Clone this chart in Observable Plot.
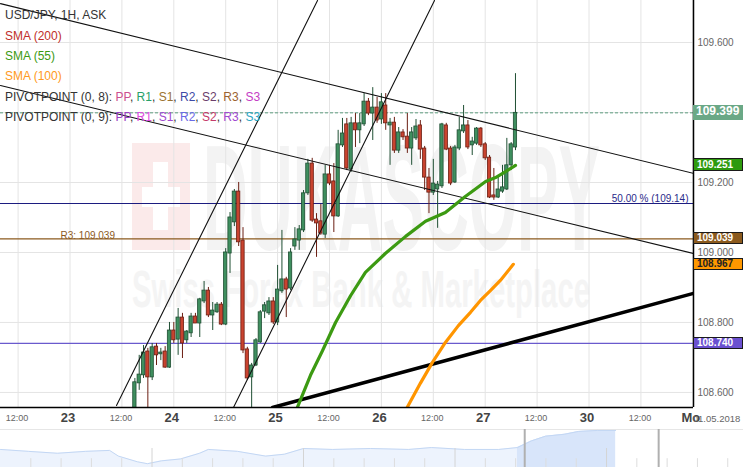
<!DOCTYPE html>
<html><head><meta charset="utf-8">
<script src="https://cdn.jsdelivr.net/npm/d3@7"></script>
<script src="https://cdn.jsdelivr.net/npm/@observablehq/plot@0.6"></script>
<style>
body{margin:0;background:#fff;}
#wrap{position:relative;width:743px;height:467px;overflow:hidden;font-family:"Liberation Sans",Arial,sans-serif;background:#fff;}
#wrap svg{display:block;}
.leg{position:absolute;left:5px;font-size:12px;white-space:nowrap;line-height:14px;}
.tag{position:absolute;left:693px;width:50px;box-sizing:border-box;border:1px solid #1a1a1a;font-weight:bold;font-size:10px;padding-left:3px;}
</style></head><body><div id="wrap"></div>
<script>
// ---------- data (hours counted from 23 Apr 00:00, weekend removed) ----------
const firstCandleHour = 15;
const opens = [108.534,108.626,108.649,108.717,108.643,108.731,108.709,108.717,108.671,108.777,
108.751,108.814,108.749,108.769,108.817,108.797,108.860,108.891,108.820,108.829,
108.851,108.794,108.997,109.086,109.174,109.034,108.723,108.643,108.677,108.743,
108.831,108.826,108.860,108.800,108.889,108.923,108.897,109.017,109.034,109.063,
109.169,109.254,109.094,109.089,109.051,109.223,109.203,109.103,109.306,109.366,
109.237,109.369,109.349,109.366,109.431,109.397,109.414,109.380,109.420,109.363,
109.371,109.291,109.343,109.331,109.297,109.326,109.363,109.297,109.214,109.171,
109.180,109.189,109.363,109.297,109.200,109.297,109.346,109.363,109.306,109.311,
109.354,109.309,109.271,109.163,109.157,109.174,109.180,109.249,109.300];
const highs = [108.640,108.706,108.734,108.726,108.740,108.740,108.726,108.731,108.800,108.800,
108.840,108.826,108.777,108.826,108.826,108.869,108.917,108.900,108.857,108.857,
108.857,109.011,109.114,109.180,109.200,109.071,108.729,108.683,108.754,108.834,
108.857,108.871,108.871,108.963,109.063,108.929,109.011,109.071,109.077,109.177,
109.266,109.269,109.111,109.137,109.249,109.249,109.254,109.349,109.383,109.383,
109.386,109.397,109.397,109.454,109.440,109.471,109.443,109.454,109.454,109.383,
109.386,109.357,109.351,109.397,109.357,109.380,109.377,109.303,109.240,109.266,
109.203,109.369,109.369,109.303,109.306,109.386,109.420,109.377,109.329,109.357,
109.357,109.314,109.277,109.240,109.220,109.249,109.326,109.314,109.511];
const lows = [108.490,108.606,108.640,108.550,108.634,108.677,108.691,108.669,108.669,108.740,
108.706,108.697,108.740,108.757,108.797,108.757,108.854,108.814,108.777,108.826,
108.791,108.791,108.940,109.074,109.017,108.711,108.634,108.530,108.674,108.740,
108.811,108.820,108.794,108.791,108.883,108.814,108.891,109.006,109.006,109.057,
109.163,109.086,108.986,109.049,109.040,109.191,109.057,109.100,109.300,109.234,
109.229,109.300,109.311,109.360,109.391,109.320,109.369,109.366,109.349,109.249,
109.283,109.283,109.320,109.283,109.249,109.320,109.266,109.177,109.111,109.163,
109.069,109.183,109.291,109.191,109.197,109.291,109.340,109.294,109.277,109.306,
109.300,109.263,109.154,109.149,109.154,109.169,109.177,109.234,109.291];
const closes = [108.629,108.651,108.714,108.643,108.729,108.706,108.714,108.671,108.777,108.749,
108.814,108.740,108.774,108.817,108.797,108.866,108.891,108.820,108.834,108.851,
108.794,109.000,109.100,109.174,109.029,108.720,108.640,108.677,108.749,108.829,
108.849,108.860,108.800,108.894,108.923,108.894,109.000,109.037,109.066,109.169,
109.254,109.091,109.083,109.054,109.223,109.197,109.103,109.309,109.340,109.240,
109.369,109.349,109.369,109.431,109.397,109.414,109.377,109.429,109.369,109.371,
109.291,109.343,109.329,109.297,109.343,109.360,109.294,109.214,109.171,109.197,
109.194,109.366,109.294,109.197,109.300,109.349,109.363,109.300,109.317,109.354,
109.306,109.269,109.157,109.157,109.180,109.186,109.249,109.309,109.399];

// SMA (55) and SMA (100): [hour, price]
const sma55 = [[52.1,108.543],[55.6,108.649],[58.4,108.720],[61.4,108.800],[64.9,108.877],[68.3,108.943],
[72.9,108.997],[77.6,109.046],[82.2,109.089],[86.8,109.114],[91.4,109.160],[96.1,109.203],[98.4,109.214],
[100.7,109.231],[103.0,109.249]];
const sma100 = [[77.6,108.549],[81.0,108.626],[83.8,108.686],[86.8,108.743],[89.8,108.791],[92.6,108.829],
[94.9,108.863],[97.2,108.891],[99.5,108.920],[102.5,108.966]];

// hand-drawn trend lines: [[hour, price],[hour, price]]
const trendUpper = [[-16.07,109.711],[144.16,109.226]];
const trendLower = [[-16.07,109.477],[144.16,108.997]];
const channelUpper = [[10.75,108.563],[57.23,109.720]];
const channelLower = [[37.8,108.557],[84.28,109.720]];
const supportLine = [[46.82,108.557],[144.16,108.883]];

// horizontal levels
const fibo50 = 109.14;
const pivotR3 = 109.039;
const purpleLevel = 108.74;
const lastPrice = 109.399;

// price tags on the right axis
const tagValues = [109.399,109.251,109.039,108.967,108.740];

// axes
const priceTicks = [108.6,108.8,109.0,109.2,109.4,109.6];
const dayTickHours = [0,24,48,72,96,120,144];
const dayTickLabels = ["23","24","25","26","27","30","Mo"];
const halfDayHours = [-12,12,36,60,84,108,132];
const halfDayLabel = "12:00";
const dateNote = "01.05.2018";

// navigator (longer history), [day, price]
const navigator = [[0,106.66],[0.92,106.38],[1.88,106.10],[2.81,106.38],[3.60,106.52],[3.89,105.68],[4.52,104.84],
[4.85,104.56],[5.31,104.98],[5.94,105.26],[6.57,106.10],[6.86,106.66],[7.82,106.38],[8.75,105.68],[9.37,105.96],
[10.00,106.80],[10.96,106.66],[12.21,106.80],[13.47,106.66],[14.22,106.94],[15.31,106.66],[16.44,106.66],
[17.06,106.94],[17.52,107.92],[17.99,108.62],[18.61,108.90],[19.08,109.32],[19.70,109.46],[20.30,109.46]];
const navSelection = [17.2, 20.33];
const navHandles = [17.3, 21.72];

// ---------- build ----------
const xDomain = [-16.07, 144.16];
const yDomain = [108.557, 109.72];

const candles = opens.map((o,i) => ({t: firstCandleHour + i, o, h: highs[i], l: lows[i], c: closes[i], up: closes[i] >= o}));
const upFill = "#3f8f5f", upLine = "#1f4f33", dnFill = "#c9432f", dnLine = "#6b1e12";
const fmt3 = d3.format(".3f");

const chart = Plot.plot({
  width: 743, height: 429,
  marginLeft: 0, marginRight: 50, marginTop: 0, marginBottom: 22,
  x: {domain: xDomain, axis: null},
  y: {domain: yDomain, axis: null},
  color: {type: "identity"},
  style: {fontFamily: "'Liberation Sans', Arial, sans-serif", background: "transparent"},
  marks: [
    Plot.ruleX([...halfDayHours, ...dayTickHours], {stroke: "#e4e4e4", strokeWidth: 1}),
    Plot.ruleY(priceTicks, {stroke: "#e4e4e4", strokeWidth: 1}),
    Plot.ruleY([lastPrice], {stroke: "#5f9f80", strokeWidth: 1, strokeDasharray: "3,2"}),
    Plot.ruleY([fibo50], {stroke: "#1c1c80", strokeWidth: 1.2}),
    Plot.ruleY([pivotR3], {stroke: "#8b5a1e", strokeWidth: 1.2}),
    Plot.ruleY([purpleLevel], {stroke: "#6a5acd", strokeWidth: 1.2}),
    Plot.text([pivotR3], {y: d => d, text: d => `R3: ${fmt3(d)}`, frameAnchor: "left", dx: 60, textAnchor: "start", lineAnchor: "bottom", dy: 0, fill: "#8b5a1e", fontSize: 10}),
    Plot.text([fibo50], {y: d => d, text: d => `50.00 % (${d3.format(".2f")(d)})`, frameAnchor: "right", dx: -5, textAnchor: "end", lineAnchor: "bottom", dy: -1, fill: "#2a2a8a", fontSize: 10}),
    Plot.ruleX(candles, {x: "t", y1: "l", y2: "h", stroke: d => d.up ? upLine : dnLine, strokeWidth: 1, clip: true}),
    Plot.rect(candles, {x1: d => d.t - 0.38, x2: d => d.t + 0.38, y1: "o", y2: "c", fill: d => d.up ? upFill : dnFill, stroke: d => d.up ? upLine : dnLine, strokeWidth: 0.8, clip: true}),
    Plot.line(trendUpper, {stroke: "#111", strokeWidth: 1.1, clip: true}),
    Plot.line(trendLower, {stroke: "#111", strokeWidth: 1.1, clip: true}),
    Plot.line(channelUpper, {stroke: "#111", strokeWidth: 1.1, clip: true}),
    Plot.line(channelLower, {stroke: "#111", strokeWidth: 1.1, clip: true}),
    Plot.line(supportLine, {stroke: "#000", strokeWidth: 3.5, clip: true}),
    Plot.line(sma100, {stroke: "#ff9500", strokeWidth: 3.2, clip: true}),
    Plot.line(sma55, {stroke: "#3c9a12", strokeWidth: 3.2, clip: true}),
    Plot.ruleX([xDomain[1]], {stroke: "#000", strokeWidth: 1.5}),
    Plot.ruleY([yDomain[0]], {stroke: "#000", strokeWidth: 1.5}),
    Plot.text(priceTicks, {y: d => d, text: d => fmt3(d), frameAnchor: "right", textAnchor: "start", dx: 4, fill: "#666", fontSize: 10}),
    Plot.text(halfDayHours, {x: d => d, text: () => halfDayLabel, frameAnchor: "bottom", dy: 13, dx: -1, fill: "#666", fontSize: 9}),
    Plot.text(dayTickHours, {x: d => d, text: (d, i) => dayTickLabels[i], frameAnchor: "bottom", dy: 14, dx: -2, fill: "#444", fontSize: 13, fontWeight: "bold"}),
    Plot.text([dayTickHours[dayTickHours.length - 1]], {x: d => d, text: () => dateNote, frameAnchor: "bottom", dy: 14, dx: 0, textAnchor: "start", fill: "#666", fontSize: 9.5})
  ]
});

// watermark (decoration) underneath everything
const svg = d3.select(chart);
const wm = svg.insert("g", ":first-child").attr("text-anchor", "start");
wm.append("rect").attr("width", 743).attr("height", 429).attr("fill", "#fff");
wm.append("rect").attr("x", 132).attr("y", 143).attr("width", 58).attr("height", 107).attr("fill", "#fbeaea");
wm.append("rect").attr("x", 153).attr("y", 162).attr("width", 15).attr("height", 68).attr("fill", "#fff");
wm.append("rect").attr("x", 142).attr("y", 187).attr("width", 38).attr("height", 20).attr("fill", "#fff");
wm.append("text").attr("x", 203).attr("y", 250).attr("font-size", 150).attr("font-weight", "bold")
  .attr("font-family", "'Liberation Sans', Arial").attr("fill", "#f3f3f3").attr("text-anchor", "start")
  .attr("textLength", 397).attr("lengthAdjust", "spacingAndGlyphs").text("DUKASCOPY");
wm.append("text").attr("x", 132).attr("y", 307).attr("font-size", 52).attr("font-weight", "bold")
  .attr("font-family", "'Liberation Sans', Arial").attr("fill", "#f4f4f4").attr("text-anchor", "start")
  .attr("textLength", 458).attr("lengthAdjust", "spacingAndGlyphs").text("Swiss Forex Bank & Marketplace");

const wrap = document.getElementById("wrap");
wrap.appendChild(chart);

// navigator
const nav = Plot.plot({
  width: 743, height: 38, margin: 0,
  x: {domain: [0, 24.52], axis: null},
  y: {domain: [104.0, 109.6], axis: null},
  style: {background: "#fff"},
  marks: [
    Plot.ruleY([109.6], {stroke: "#e6e6e6"}),
    Plot.areaY(navigator, {x: d => d[0], y: d => d[1], fill: "#edf3fd"}),
    Plot.areaY(navigator.filter(d => d[0] >= navSelection[0] - 0.5), {x: d => d[0], y: d => d[1], fill: "#d8e5fa", clip: true}),
    Plot.lineY(navigator, {x: d => d[0], y: d => d[1], stroke: "#c3d7f4", strokeWidth: 1}),
    Plot.ruleX(d3.range(1, 25).filter(d => d % 5 !== 0), {y1: 104.0, y2: 105.3, stroke: "#dddddd"}),
    Plot.ruleX([5, 10, 15, 20], {y1: 104.0, y2: 106.8, stroke: "#d4d4d4"}),
    Plot.ruleX(navHandles, {stroke: "#b0b0b0", strokeWidth: 2})
  ]
});
wrap.appendChild(nav);

// price tags (positioned with the chart's own y scale)
const yS = chart.scale("y");
const tagStyles = [
  {bg: "#6aa886", fg: "#fff", h: 15, fs: 12, border: "none"},
  {bg: "#2e9a0e", fg: "#fff", h: 13, fs: 10},
  {bg: "#8b5a1e", fg: "#fff", h: 12, fs: 10},
  {bg: "#ff9800", fg: "#222", h: 12, fs: 10},
  {bg: "#6a50d0", fg: "#fff", h: 12, fs: 10}
];
tagValues.forEach((v, i) => {
  const s = tagStyles[i];
  const d = document.createElement("div");
  d.className = "tag";
  d.textContent = fmt3(v);
  const y = yS.apply(v);
  d.style.top = (y - s.h / 2) + "px";
  d.style.height = s.h + "px";
  d.style.lineHeight = (s.h - 2) + "px";
  d.style.background = s.bg;
  d.style.color = s.fg;
  d.style.fontSize = s.fs + "px";
  if (s.border) d.style.border = s.border;
  wrap.appendChild(d);
});

// legend
const legendLines = [
  [["USD/JPY, 1H, ASK", "#333"]],
  [["SMA (200)", "#c0302a"]],
  [["SMA (55)", "#3c9a12"]],
  [["SMA (100)", "#ff9a22"]],
  [["PIVOTPOINT (0, 8): ", "#333"], ["PP", "#cc4f8f"], [", ", "#333"], ["R1", "#27a06a"], [", ", "#333"], ["S1", "#9b7330"], [", ", "#333"], ["R2", "#3d4aa6"], [", ", "#333"], ["S2", "#6b3d6b"], [", ", "#333"], ["R3", "#9b6330"], [", ", "#333"], ["S3", "#c43cc4"]],
  [["PIVOTPOINT (0, 9): ", "#333"], ["PP", "#9a3fc4"], [", ", "#333"], ["R1", "#e04be0"], [", ", "#333"], ["S1", "#a04ad0"], [", ", "#333"], ["R2", "#6a6ae6"], [", ", "#333"], ["S2", "#c43a6a"], [", ", "#333"], ["R3", "#a04ad0"], [", ", "#333"], ["S3", "#2ca6c4"]]
];
const legendCenters = [15, 36, 56, 76, 97, 117];
legendLines.forEach((parts, i) => {
  const d = document.createElement("div");
  d.className = "leg";
  d.style.top = (legendCenters[i] - 7) + "px";
  parts.forEach(([t, c]) => {
    const s = document.createElement("span");
    s.textContent = t; s.style.color = c;
    d.appendChild(s);
  });
  wrap.appendChild(d);
});
</script></body></html>
